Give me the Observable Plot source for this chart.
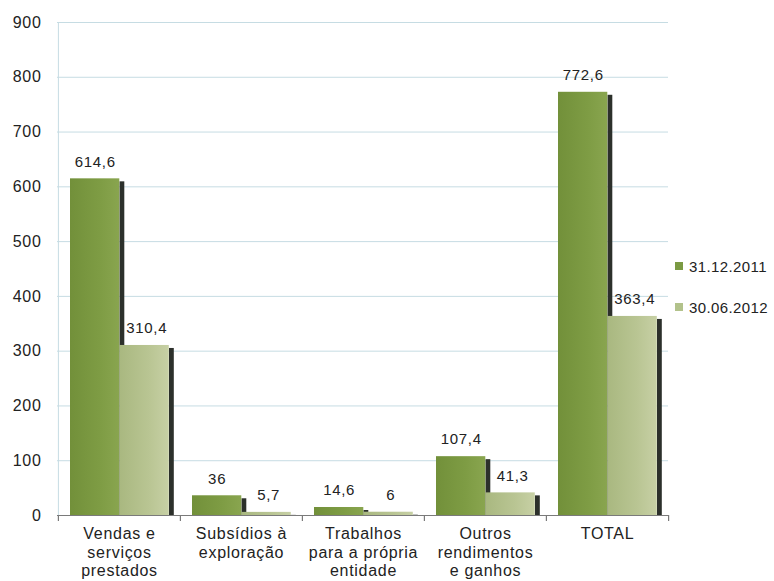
<!DOCTYPE html>
<html>
<head>
<meta charset="utf-8">
<script src="https://cdn.jsdelivr.net/npm/d3@7"></script>
<script src="https://cdn.jsdelivr.net/npm/@observablehq/plot@0.6"></script>
<style>
  html, body { margin: 0; padding: 0; background: #fff; }
  #wrap { position: relative; width: 774px; height: 581px; font-family: "Liberation Sans", Arial, sans-serif; }
  #wrap svg text { letter-spacing: 0.7px; }
  .legend { position: absolute; left: 675px; font-size: 15px; color: #222; letter-spacing: 0.4px; }
  .legend .item { position: absolute; left: 0; white-space: nowrap; display: flex; align-items: center; }
  .legend .sw { width: 8px; height: 8px; margin-right: 6px; display: inline-block; }
</style>
</head>
<body>
<div id="wrap"></div>
<script>
// ---- data ----
const categories = ["Vendas e\nserviços\nprestados", "Subsídios à\nexploração", "Trabalhos\npara a própria\nentidade", "Outros\nrendimentos\ne ganhos", "TOTAL"];
const series = ["31.12.2011", "30.06.2012"];
const values2011 = [614.6, 36, 14.6, 107.4, 772.6];
const values2012 = [310.4, 5.7, 6, 41.3, 363.4];
const yTicks = [0, 100, 200, 300, 400, 500, 600, 700, 800, 900];

// ---- layout ----
const W = 774, H = 581;
const mL = 57, mR = 106, mT = 22, mB = 66;
const bw = (W - mL - mR) / categories.length;
const pad = 12, barW = 49.5, shW = 5;

const rows = categories.map((c, i) => ({category: c, v1: values2011[i], v2: values2012[i]}));
const fmt = v => String(v).replace(".", ",");

const common = {x: "category", y1: 0};
const chart = Plot.plot({
  width: W, height: H,
  marginLeft: mL, marginRight: mR, marginTop: mT, marginBottom: mB,
  style: {fontFamily: "'Liberation Sans', Arial, sans-serif", fontSize: "16px", color: "#222", background: "#fff", overflow: "visible"},
  x: {domain: categories, padding: 0, axis: null},
  y: {domain: [0, 900], ticks: yTicks, tickSize: 0, tickPadding: 16, label: null, tickFormat: d => String(d)},
  marks: [
    Plot.ruleY(yTicks.slice(1), {stroke: "#c6dce3", strokeWidth: 1}),
    Plot.ruleX([categories[0]], {dx: -bw / 2, stroke: "#c6dce3", strokeWidth: 1}),
    // shadows
    Plot.barY(rows, {...common, y2: "v1", fill: "#2c302b", insetLeft: pad + barW, insetRight: bw - pad - barW - shW, insetTop: 3}),
    Plot.barY(rows, {...common, y2: "v2", fill: "#2c302b", insetLeft: pad + 2 * barW, insetRight: bw - pad - 2 * barW - shW, insetTop: 3}),
    // bars
    Plot.barY(rows, {...common, y2: "v1", fill: "url(#g1)", insetLeft: pad, insetRight: bw - pad - barW}),
    Plot.barY(rows, {...common, y2: "v2", fill: "url(#g2)", insetLeft: pad + barW, insetRight: bw - pad - 2 * barW}),
    // baseline and boundary ticks
    Plot.ruleY([0], {stroke: "#7a7a7a", strokeWidth: 1.2}),
    Plot.ruleX(categories, {dx: -bw / 2, y1: 0, y2: 0, insetBottom: -6, stroke: "#7a7a7a", strokeWidth: 1.2}),
    Plot.ruleX([categories[categories.length - 1]], {dx: bw / 2, y1: 0, y2: 0, insetBottom: -6, stroke: "#7a7a7a", strokeWidth: 1.2}),
    // value labels
    Plot.text(rows, {x: "category", y: "v1", text: d => fmt(d.v1), dx: pad + barW / 2 - bw / 2, dy: -17, fontSize: 15, fill: "#222"}),
    Plot.text(rows, {x: "category", y: "v2", text: d => fmt(d.v2), dx: pad + 1.5 * barW - bw / 2 + 2, dy: -17, fontSize: 15, fill: "#222"}),
    // category labels
    Plot.text(categories, {x: d => d, y: () => 0, text: d => d, lineAnchor: "top", dy: 10, lineHeight: 1.17, fontSize: 16, fill: "#222"})
  ]
});

// gradients
const ns = "http://www.w3.org/2000/svg";
const defs = document.createElementNS(ns, "defs");
defs.innerHTML = `
  <linearGradient id="g1" x1="0" x2="1" y1="0" y2="0">
    <stop offset="0" stop-color="#72903a"/>
    <stop offset="0.6" stop-color="#7e9c44"/>
    <stop offset="1" stop-color="#89a54f"/>
  </linearGradient>
  <linearGradient id="g2" x1="0" x2="1" y1="0" y2="0">
    <stop offset="0" stop-color="#a9b880"/>
    <stop offset="0.6" stop-color="#b9c593"/>
    <stop offset="1" stop-color="#c7d0a5"/>
  </linearGradient>`;
chart.insertBefore(defs, chart.firstChild);

const wrap = document.getElementById("wrap");
wrap.appendChild(chart);

// legend
const legendColors = ["#7b9a43", "#b2c28b"];
const legend = document.createElement("div");
legend.className = "legend";
legend.style.top = "0px";
const legendY = [266, 307];
series.forEach((s, i) => {
  const it = document.createElement("div");
  it.className = "item";
  it.style.top = (legendY[i] - 9) + "px";
  it.style.height = "18px";
  it.innerHTML = `<span class="sw" style="background:${legendColors[i]}"></span><span>${s}</span>`;
  legend.appendChild(it);
});
wrap.appendChild(legend);
</script>
</body>
</html>
